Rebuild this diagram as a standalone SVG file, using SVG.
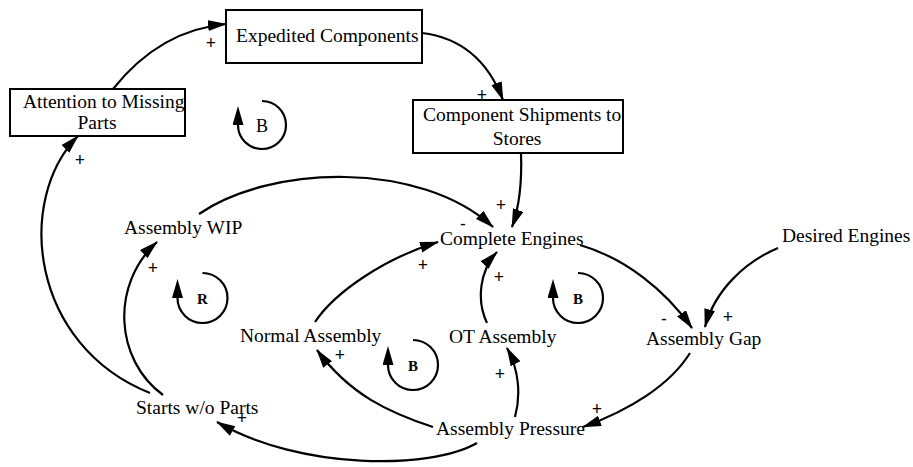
<svg xmlns="http://www.w3.org/2000/svg" width="913" height="467" viewBox="0 0 913 467">
<style>
text{font-family:"Liberation Serif","Times New Roman",serif;fill:#000}
.lbl{font-size:19.5px}
.box{fill:#fff;stroke:#000;stroke-width:2}
.c{fill:none;stroke:#000;stroke-width:2.2;marker-end:url(#ah)}
.loop{fill:none;stroke:#000;stroke-width:2.2;marker-end:url(#la)}
.sg{font-size:18px;font-weight:bold;text-anchor:middle}
.ms{font-size:16px;font-weight:bold;text-anchor:middle}
.lp{font-size:15px;font-weight:bold;text-anchor:middle}
</style>
<defs>
<marker id="ah" markerUnits="userSpaceOnUse" markerWidth="20" markerHeight="12" viewBox="0 0 20 12" refX="18" refY="5.5" orient="auto"><path d="M0,0 L19,5.5 L0,11 z" fill="#000"/></marker>
<marker id="la" markerUnits="userSpaceOnUse" markerWidth="20" markerHeight="12" viewBox="0 0 20 12" refX="0" refY="5.5" orient="auto"><path d="M0,0 L19,5.5 L0,11 z" fill="#000"/></marker>
</defs>
<rect width="913" height="467" fill="#fff"/>

<g id="connectors">
<path class="c" d="M113,89 Q160,30 226,24"/>
<path class="c" d="M422,33 Q480,40 503,100"/>
<path class="c" d="M521,153 C522,180 520,205 512,227"/>
<path class="c" d="M199,214 C270,165 420,160 493,227"/>
<path class="c" d="M315,322 C335,292 385,258 438,242"/>
<path class="c" d="M487,323 C476,300 480,270 497,252"/>
<path class="c" d="M515,417 C521,395 519,370 507,348"/>
<path class="c" d="M433,427 C390,413 350,395 317,350"/>
<path class="c" d="M477,443 C430,470 300,470 217,422"/>
<path class="c" d="M163,395 C115,360 110,285 157,242"/>
<path class="c" d="M150,393 C30,345 15,200 78,136"/>
<path class="c" d="M580,245 C625,258 665,290 692,328"/>
<path class="c" d="M778,248 C745,262 715,290 705,327"/>
<path class="c" d="M690,353 C670,385 630,410 583,427"/>
<text class="sg" x="211" y="49">+</text>
<text class="sg" x="80" y="166">+</text>
<text class="sg" x="482" y="101">+</text>
<text class="sg" x="501" y="211">+</text>
<text class="ms" x="463" y="229">-</text>
<text class="sg" x="423" y="271">+</text>
<text class="sg" x="499" y="283">+</text>
<text class="sg" x="153" y="274">+</text>
<text class="sg" x="340" y="361">+</text>
<text class="sg" x="500" y="380">+</text>
<text class="sg" x="242" y="424">+</text>
<text class="sg" x="597" y="415">+</text>
<text class="ms" x="664" y="324">-</text>
<text class="sg" x="728" y="323">+</text>
</g>

<g id="expedited-components">
<rect class="box" x="226" y="10" width="196" height="53"/>
<text class="lbl" x="236" y="42">Expedited Components</text>
</g>
<g id="attention-to-missing-parts">
<rect class="box" x="10" y="89" width="175" height="47"/>
<text class="lbl" x="23" y="108">Attention to Missing</text>
<text class="lbl" x="97" y="129" text-anchor="middle">Parts</text>
</g>
<g id="component-shipments-to-stores">
<rect class="box" x="413" y="100" width="210" height="53"/>
<text class="lbl" x="423" y="121">Component Shipments to</text>
<text class="lbl" x="517" y="145" text-anchor="middle">Stores</text>
</g>
<g id="complete-engines"><text class="lbl" x="440" y="245">Complete Engines</text></g>
<g id="desired-engines"><text class="lbl" x="782" y="242">Desired Engines</text></g>
<g id="assembly-wip"><text class="lbl" x="124" y="234">Assembly WIP</text></g>
<g id="normal-assembly"><text class="lbl" x="240" y="342">Normal Assembly</text></g>
<g id="ot-assembly"><text class="lbl" x="449" y="343">OT Assembly</text></g>
<g id="assembly-gap"><text class="lbl" x="646" y="345">Assembly Gap</text></g>
<g id="starts-wo-parts"><text class="lbl" x="136" y="414">Starts w/o Parts</text></g>
<g id="assembly-pressure"><text class="lbl" x="436" y="435">Assembly Pressure</text></g>

<g id="loop-b-top">
<path class="loop" d="M262,101 A24,24 0 1 1 238,125"/>
<text x="262" y="132" font-size="18" text-anchor="middle">B</text>
</g>
<g id="loop-r">
<path class="loop" d="M202.5,273 A25,25 0 1 1 177.5,298"/>
<text class="lp" x="202.5" y="304">R</text>
</g>
<g id="loop-b-middle">
<path class="loop" d="M413,340 A25,25 0 1 1 388,365"/>
<text class="lp" x="413" y="371">B</text>
</g>
<g id="loop-b-right">
<path class="loop" d="M578,273 A25,25 0 1 1 553,298"/>
<text class="lp" x="578" y="304">B</text>
</g>
</svg>
